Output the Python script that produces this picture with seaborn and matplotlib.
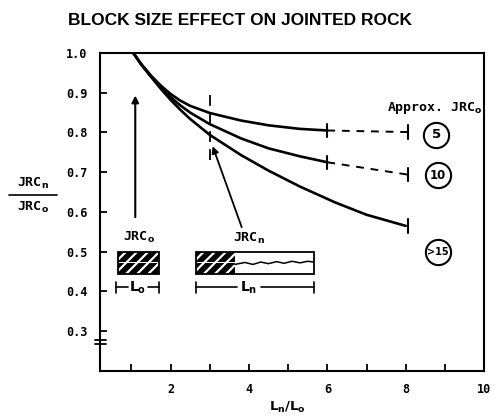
import matplotlib
matplotlib.use("Agg")
import matplotlib.pyplot as plt
import matplotlib.patches as mpatches
import matplotlib.transforms as mtransforms
import seaborn as sns
import pandas as pd

# ---- data ----
x_upper = [1.05, 1.25, 1.5, 1.75, 2.0, 2.25, 2.5, 3.0, 3.8, 4.5, 5.3, 6.0]
jrc5 = [1.0, 0.972, 0.943, 0.918, 0.897, 0.880, 0.867, 0.849, 0.830, 0.818, 0.809, 0.805]
jrc10 = [1.0, 0.972, 0.942, 0.914, 0.889, 0.868, 0.850, 0.821, 0.785, 0.760, 0.740, 0.725]
x_lower = [1.05, 1.25, 1.5, 1.75, 2.0, 2.25, 2.5, 3.0, 3.8, 4.5, 5.3, 6.2, 7.0, 8.0]
jrc15 = [1.0, 0.971, 0.940, 0.910, 0.882, 0.857, 0.834, 0.794, 0.743, 0.704, 0.664, 0.624, 0.593, 0.565]
dash_x = [6.0, 8.05]
dash5 = [0.805, 0.801]
dash10 = [0.725, 0.694]
circle_labels = ["5", "10", ">15"]
circle_x = [8.78, 8.82, 8.82]
circle_y = [0.794, 0.693, 0.500]
xticks_major = [2, 4, 6, 8, 10]
xticks_minor = [1, 3, 5, 7, 9]
yticks = [0.3, 0.4, 0.5, 0.6, 0.7, 0.8, 0.9, 1.0]
wave_x = [3.64, 3.9, 4.1, 4.3, 4.5, 4.7, 4.9, 5.1, 5.3, 5.5, 5.65]
wave_y = [0.468, 0.473, 0.468, 0.474, 0.470, 0.475, 0.471, 0.476, 0.472, 0.476, 0.474]

df = pd.concat([
    pd.DataFrame({"x": x_upper, "y": jrc5, "JRC": "5"}),
    pd.DataFrame({"x": x_upper, "y": jrc10, "JRC": "10"}),
    pd.DataFrame({"x": x_lower, "y": jrc15, "JRC": ">15"}),
])

sns.set_theme(style="ticks", rc={"text.color": "black", "axes.labelcolor": "black",
                                 "xtick.color": "black", "ytick.color": "black",
                                 "axes.edgecolor": "black"})
plt.rcParams["font.family"] = ["DejaVu Sans"]
plt.rcParams["hatch.linewidth"] = 1.6
plt.rcParams["mathtext.fontset"] = "dejavusans"

fig = plt.figure(figsize=(4.95, 4.19), dpi=100)
ax = fig.add_axes([0.202, 0.1146, 0.776, 0.759])

sns.lineplot(data=df, x="x", y="y", hue="JRC", palette=["black"] * 3,
             linewidth=1.9, legend=False, sort=False, estimator=None, ax=ax)

for dy in (dash5, dash10):
    ax.plot(dash_x, dy, color="black", lw=1.4, ls=(0, (4, 3.5)))

# end caps
cap = 0.017
for xx, yy in [(6.0, 0.805), (8.05, 0.801), (6.0, 0.725), (8.05, 0.694), (8.05, 0.565)]:
    ax.plot([xx, xx], [yy - cap, yy + cap], color="black", lw=1.5)

# dashed vertical at Ln/Lo = 3
ax.plot([3.0, 3.0], [0.73, 0.895], color="black", lw=1.3, ls=(0, (6, 4)))

ax.set_xlim(0.2, 10)
ax.set_ylim(0.2, 1.0)
ax.set_xticks(xticks_major)
ax.set_xticks(xticks_minor, minor=True)
ax.set_xticklabels([str(t) for t in xticks_major])
ax.set_yticks(yticks)
ax.set_yticklabels([f"{t:.1f}" for t in yticks])
ax.tick_params(axis="both", which="both", direction="in", length=5, width=1.3,
               color="black")
ax.tick_params(axis="both", labelsize=8.5)
ax.tick_params(axis="y", pad=9)
ax.tick_params(axis="x", pad=9)
for lab in ax.get_xticklabels() + ax.get_yticklabels():
    lab.set_fontweight("bold")
    lab.set_family("DejaVu Sans Mono")
for sp in ax.spines.values():
    sp.set_visible(True)
    sp.set_linewidth(1.5)
    sp.set_color("black")
ax.set_xlabel("")
ax.set_ylabel("")
fig.text(0.58, 0.028, r"$\mathbf{L_n/L_o}$", fontsize=9.5, ha="center",
         va="center")

# fraction y-label
fig.text(0.066, 0.545, "JRC$_\\mathbf{n}$", fontsize=9.5, fontweight="bold",
         family="DejaVu Sans Mono", ha="center", va="bottom")
fig.add_artist(plt.Line2D([0.018, 0.115], [0.535, 0.535], color="black", lw=1.2,
                          transform=fig.transFigure))
fig.text(0.066, 0.522, "JRC$_\\mathbf{o}$", fontsize=9.5, fontweight="bold",
         family="DejaVu Sans Mono", ha="center", va="top")

# axis break marks on left spine
bt = mtransforms.blended_transform_factory(ax.transAxes, ax.transData)
for yb in (0.268, 0.279):
    ax.plot([-0.013, 0.016], [yb, yb], color="black", lw=1.3, transform=bt,
            clip_on=False)

# title
fig.text(0.137, 0.952, "BLOCK SIZE EFFECT ON JOINTED ROCK", fontsize=12.5,
         fontweight="bold", family="Liberation Sans", ha="left", va="center")

# Approx JRC label and circled numbers
ax.text(9.97, 0.862, "Approx. JRC$_\\mathbf{o}$", fontsize=9.5, fontweight="bold",
        family="DejaVu Sans Mono", ha="right", va="center")
ax.scatter(circle_x, circle_y, s=330, facecolors="white", edgecolors="black",
           linewidths=1.5, zorder=3)
for lab, cx, cy in zip(circle_labels, circle_x, circle_y):
    ax.text(cx, cy, lab, fontsize=9.5 if lab == "5" else (8.5 if lab == "10" else 7),
            fontweight="bold", ha="center", va="center", zorder=4)

# vertical arrow
ax.annotate("", xy=(1.1, 0.9), xytext=(1.1, 0.58),
            arrowprops=dict(arrowstyle="-|>", color="black", lw=1.5,
                            mutation_scale=10))
# arrow from JRCn label to curve point
ax.annotate("", xy=(3.05, 0.772), xytext=(3.84, 0.555),
            arrowprops=dict(arrowstyle="-|>", color="black", lw=1.3,
                            mutation_scale=10))

# JRCo block (two hatched layers)
for y0 in (0.444, 0.4735):
    ax.add_patch(mpatches.Rectangle((0.65, y0), 1.05, 0.0265, fc="black",
                                    ec="white", lw=0, hatch="///"))
ax.add_patch(mpatches.Rectangle((0.65, 0.444), 1.05, 0.056, fc="none",
                                ec="black", lw=1.3))
# JRCn block: hatched + open part
for y0 in (0.444, 0.4735):
    ax.add_patch(mpatches.Rectangle((2.66, y0), 0.98, 0.0265, fc="black",
                                    ec="white", lw=0, hatch="///"))
ax.add_patch(mpatches.Rectangle((2.66, 0.444), 2.99, 0.056, fc="none",
                                ec="black", lw=1.3))
ax.plot(wave_x, wave_y, color="black", lw=1.1)

ax.text(1.2, 0.537, "JRC$_\\mathbf{o}$", fontsize=9.5, fontweight="bold",
        family="DejaVu Sans Mono", ha="center", va="center")
ax.text(4.0, 0.533, "JRC$_\\mathbf{n}$", fontsize=9.5, fontweight="bold",
        family="DejaVu Sans Mono", ha="center", va="center")

# dimension lines
ax.plot([0.62, 0.62], [0.397, 0.425], color="black", lw=1.2)
ax.plot([1.70, 1.70], [0.397, 0.425], color="black", lw=1.2)
ax.plot([0.62, 0.92], [0.411, 0.411], color="black", lw=1.2)
ax.plot([1.42, 1.70], [0.411, 0.411], color="black", lw=1.2)
ax.text(1.17, 0.409, "L$_\\mathbf{o}$", fontsize=10, fontweight="bold",
        ha="center", va="center")
ax.plot([2.66, 2.66], [0.397, 0.425], color="black", lw=1.2)
ax.plot([5.65, 5.65], [0.397, 0.425], color="black", lw=1.2)
ax.plot([2.66, 3.7], [0.411, 0.411], color="black", lw=1.2)
ax.plot([4.3, 5.65], [0.411, 0.411], color="black", lw=1.2)
ax.text(3.98, 0.409, "L$_\\mathbf{n}$", fontsize=10, fontweight="bold",
        ha="center", va="center")

fig.savefig("out.png", dpi=100, facecolor="white")
